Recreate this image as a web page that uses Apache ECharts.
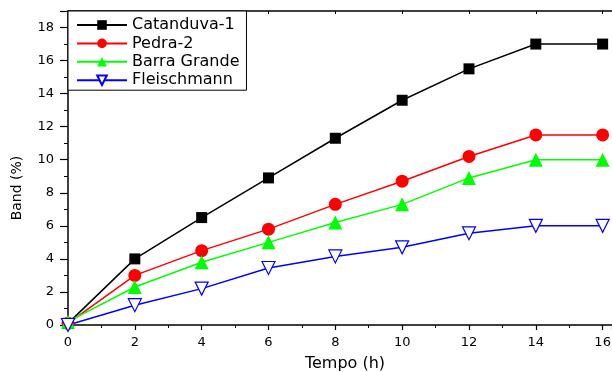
<!DOCTYPE html>
<html>
<head>
<meta charset="utf-8">
<script src="https://cdn.jsdelivr.net/npm/echarts@6/dist/echarts.min.js"></script>
<style>
  html, body { margin: 0; padding: 0; background: #fff; }
  #chart { width: 612px; height: 372px; }
</style>
</head>
<body>
<div id="chart"></div>
<script>
// Sampling times (h)
const tempo = [0, 2, 4, 6, 8, 10, 12, 14, 16]

// Band (%) per strain
const catanduva = [0.1, 4.0, 6.5, 8.9, 11.3, 13.6, 15.5, 17.0, 17.0]
const pedra = [0.1, 3.0, 4.5, 5.8, 7.3, 8.7, 10.2, 11.5, 11.5]
const barraGrande = [0.2, 2.3, 3.8, 5.0, 6.2, 7.3, 8.9, 10.0, 10.0]
const fleischmann = [0.0, 1.2, 2.2, 3.45, 4.15, 4.7, 5.55, 6.0, 6.0]

const FONT = 'DejaVu Sans, Verdana, sans-serif'

const pairs = (ys) => tempo.map((t, i) => [t, ys[i]])

const chart = echarts.init(document.getElementById('chart'))

const mkSeries = (name, ys, color, symbol, size, fill) => ({
  name,
  type: 'line',
  data: pairs(ys),
  symbol,
  symbolSize: size,
  showAllSymbol: true,
  lineStyle: { color, width: 1.5 },
  itemStyle: { color: fill, borderColor: color, borderWidth: fill === '#fff' ? 1.2 : 0 },
  emphasis: { disabled: true },
})

chart.setOption({
  animation: false,
  backgroundColor: '#fff',
  grid: { left: 68, right: 0, top: 11, bottom: 47, containLabel: false, outerBoundsMode: 'none' },
  legend: {
    left: 68,
    top: 11,
    orient: 'vertical',
    itemWidth: 50,
    itemHeight: 12,
    itemGap: 0.4,
    padding: [5, 7, 1, 8],
    borderColor: '#000',
    borderWidth: 1,
    backgroundColor: '#fff',
    textStyle: { fontFamily: FONT, fontSize: 16, lineHeight: 18, color: '#000' },
    data: ['Catanduva-1', 'Pedra-2', 'Barra Grande', 'Fleischmann'],
  },
  xAxis: [
    {
      type: 'value',
      min: 0,
      max: 16.28,
      interval: 2,
      name: 'Tempo (h)',
      nameLocation: 'middle',
      nameGap: 31,
      nameTextStyle: { fontFamily: FONT, fontSize: 16, color: '#000', padding: [0, 0, 0, 10] },
      axisLine: { show: true, lineStyle: { color: '#000', width: 1.5 } },
      axisTick: { show: true, inside: false, length: 5, lineStyle: { color: '#000', width: 1.2 } },
      minorTick: { show: true, splitNumber: 2, length: 3, lineStyle: { color: '#000', width: 1 } },
      axisLabel: { fontFamily: FONT, fontSize: 13, color: '#000', margin: 11, showMaxLabel: false },
      splitLine: { show: false },
    },
    {
      type: 'value',
      position: 'top',
      min: 0,
      max: 16.28,
      interval: 2,
      axisLine: { show: true, lineStyle: { color: '#000', width: 1.5 } },
      axisTick: { show: true, inside: true, length: 3, lineStyle: { color: '#000' } },
      axisLabel: { show: false },
      splitLine: { show: false },
    },
  ],
  yAxis: {
    type: 'value',
    min: 0,
    max: 19,
    interval: 2,
    name: 'Band (%)',
    nameLocation: 'middle',
    nameGap: 44,
    nameTextStyle: { fontFamily: FONT, fontSize: 14, color: '#000', padding: [0, 40, 0, 0] },
    axisLine: { show: true, lineStyle: { color: '#000', width: 1.5 } },
    axisTick: { show: true, inside: false, length: 8, lineStyle: { color: '#000', width: 1.2 } },
    minorTick: { show: true, splitNumber: 2, length: 4, lineStyle: { color: '#000', width: 1 } },
    axisLabel: { fontFamily: FONT, fontSize: 13, color: '#000', margin: 14, showMaxLabel: false },
    splitLine: { show: false },
  },
  series: [
    mkSeries('Catanduva-1', catanduva, '#000', 'rect', 11, '#000'),
    mkSeries('Pedra-2', pedra, '#ff0000', 'circle', 13, '#ff0000'),
    mkSeries('Barra Grande', barraGrande, '#00ff00', 'triangle', 14, '#00ff00'),
    mkSeries('Fleischmann', fleischmann, '#0000ff', 'path://M0,0 L10,0 L5,9 Z', 13, '#fff'),
  ],
})
</script>
</body>
</html>
